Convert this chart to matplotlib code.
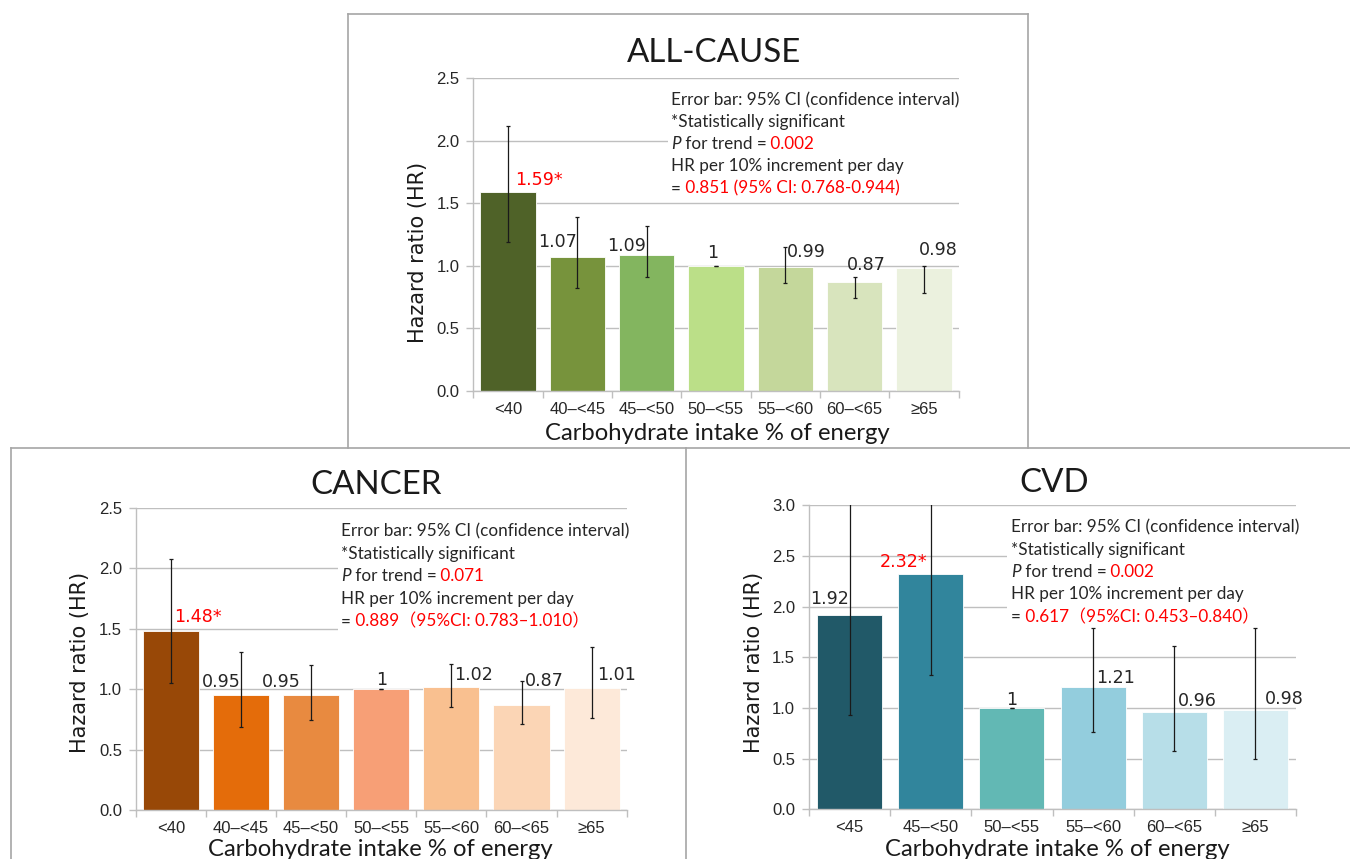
import matplotlib
matplotlib.use('Agg')
import matplotlib.pyplot as plt
from matplotlib.lines import Line2D
from matplotlib.patches import Rectangle
import numpy as np

# ---------------- data ----------------
all_cats = ['<40', '40–<45', '45–<50', '50–<55', '55–<60', '60–<65', '≥65']
all_hr = [1.59, 1.07, 1.09, 1.00, 0.99, 0.87, 0.98]
all_lo = [1.19, 0.82, 0.91, 1.00, 0.86, 0.74, 0.78]
all_hi = [2.12, 1.39, 1.32, 1.00, 1.15, 0.91, 1.00]
all_sig = [True, False, False, False, False, False, False]
all_ptrend = '0.002'
all_hrinc = '0.851 (95% CI: 0.768-0.944)'

cancer_cats = ['<40', '40–<45', '45–<50', '50–<55', '55–<60', '60–<65', '≥65']
cancer_hr = [1.48, 0.95, 0.95, 1.00, 1.02, 0.87, 1.01]
cancer_lo = [1.05, 0.69, 0.75, 1.00, 0.85, 0.71, 0.76]
cancer_hi = [2.08, 1.31, 1.20, 1.00, 1.21, 1.07, 1.35]
cancer_sig = [True, False, False, False, False, False, False]
cancer_ptrend = '0.071'
cancer_hrinc = '0.889（95%CI: 0.783–1.010）'

cvd_cats = ['<45', '45–<50', '50–<55', '55–<60', '60–<65', '≥65']
cvd_hr = [1.92, 2.32, 1.00, 1.21, 0.96, 0.98]
cvd_lo = [0.93, 1.33, 1.00, 0.76, 0.58, 0.50]
cvd_hi = [3.99, 4.05, 1.00, 1.79, 1.61, 1.79]
cvd_sig = [False, True, False, False, False, False]
cvd_ptrend = '0.002'
cvd_hrinc = '0.617（95%CI: 0.453–0.840）'

# ---------------- styles ----------------
all_colors = ['#4F6228', '#77933C', '#83B55F', '#BBDF88', '#C4D79B', '#D8E4BD', '#EBF1DE']
cancer_colors = ['#984807', '#E46C0A', '#E88A40', '#F79F76', '#F9C090', '#FBD5B5', '#FDE9D9']
cvd_colors = ['#215968', '#31859C', '#62B8B4', '#93CDDD', '#B7DEE8', '#DAEEF3']

# label offsets (x in category units, y in data units above the bar top, label centre)
all_dx = [0.44, -0.29, -0.29, -0.04, 0.31, 0.175, 0.21]
all_dy = [0.10, 0.12, 0.07, 0.10, 0.12, 0.135, 0.147]
cancer_dx = [0.38, -0.28, -0.43, 0.0, 0.32, 0.33, 0.35]
cancer_dy = [0.114, 0.113, 0.107, 0.077, 0.098, 0.198, 0.108]
cvd_dx = [-0.25, -0.34, 0.0, 0.28, 0.29, 0.36]
cvd_dy = [0.156, 0.124, 0.079, 0.083, 0.112, 0.109]

W, H = 1350, 859
fig = plt.figure(figsize=(W / 100, H / 100), dpi=100)
renderer = fig.canvas.get_renderer()

GRID = '#BFBFBF'
TXT = '#262626'
RED = '#FF0000'
NOTE_FAMILY = ['Lato', 'Noto Sans CJK JP', 'DejaVu Sans']


def fx(px):
    return px / W


def fy(py):
    return 1 - py / H


def panel(rect_px, cats, hr, lo, hi, sig, colors, dx, dy, ymax, box):
    l, t, r, b = rect_px
    ax = fig.add_axes([fx(l), fy(b), (r - l) / W, (b - t) / H])
    x = np.arange(len(cats))
    hr_a = np.array(hr)
    ax.bar(x, hr_a, width=0.8, color=colors, edgecolor='white', linewidth=0.6, zorder=2)
    ax.errorbar(x, hr_a, yerr=[hr_a - np.array(lo), np.array(hi) - hr_a], fmt='none',
                ecolor='#1a1a1a', elinewidth=0.9, capsize=1.6, capthick=0.9, zorder=4)
    for i, v in enumerate(hr):
        s = f'{v:g}' + ('*' if sig[i] else '')
        ax.text(i + dx[i], v + dy[i], s, ha='center', va='center', fontsize=12.6,
                family='DejaVu Sans', color=RED if sig[i] else TXT, zorder=5)
    ax.set_xlim(-0.5, len(cats) - 0.5)
    ax.set_ylim(0, ymax)
    ax.set_yticks(np.arange(0, ymax + 0.01, 0.5))
    ax.set_yticklabels([f'{v:.1f}' for v in np.arange(0, ymax + 0.01, 0.5)])
    ax.set_xticks(x)
    ax.set_xticklabels(cats)
    ax.set_xticks(np.arange(-0.5, len(cats)), minor=True)
    ax.tick_params(axis='x', which='major', length=0, pad=8, labelsize=12, labelcolor=TXT)
    ax.tick_params(axis='x', which='minor', length=5, color=GRID, width=1)
    ax.tick_params(axis='y', length=5, color=GRID, width=1, labelsize=12, labelcolor=TXT, pad=5)
    for lab in ax.get_xticklabels() + ax.get_yticklabels():
        lab.set_family('Liberation Sans')
    ax.grid(axis='y', color=GRID, linewidth=1, zorder=0)
    ax.set_axisbelow(True)
    for s in ['top', 'right']:
        ax.spines[s].set_visible(False)
    for s in ['left', 'bottom']:
        ax.spines[s].set_color(GRID)
        ax.spines[s].set_linewidth(1)
    # white box behind the note
    bx0, by0, by1 = box
    ax.add_patch(Rectangle((bx0, by0), 1 - bx0 + 0.01, by1 - by0, transform=ax.transAxes,
                           facecolor='white', edgecolor='none', zorder=1, clip_on=False))
    return ax


def rich_line(x_px, y_px, pieces, size=12.3):
    x = x_px
    for s, color, style in pieces:
        t = fig.text(x / W, fy(y_px), s, color=color, fontstyle=style, fontsize=size,
                     family=NOTE_FAMILY, ha='left', va='baseline')
        bb = t.get_window_extent(renderer)
        x = bb.x1


def note(x_px, y_first, spacing, ptrend, hrinc):
    lines = [
        [('Error bar: 95% CI (confidence interval)', TXT, 'normal')],
        [('*Statistically significant', TXT, 'normal')],
        [('P', TXT, 'italic'), (' for trend =', TXT, 'normal'), (' ' + ptrend, RED, 'normal')],
        [('HR per 10% increment per day', TXT, 'normal')],
        [('=', TXT, 'normal'), (' ' + hrinc, RED, 'normal')],
    ]
    for k, pcs in enumerate(lines):
        rich_line(x_px, y_first + k * spacing + 5, pcs)


# ---------------- panels ----------------
ax1 = panel((473.3, 78.3, 958.6, 391.0), all_cats, all_hr, all_lo, all_hi, all_sig,
            all_colors, all_dx, all_dy, 2.5, (0.401, 0.62, 0.97))
ax2 = panel((135.8, 507.7, 626.7, 810.3), cancer_cats, cancer_hr, cancer_lo, cancer_hi, cancer_sig,
            cancer_colors, cancer_dx, cancer_dy, 2.5, (0.412, 0.569, 0.966))
ax3 = panel((809.0, 505.3, 1296.0, 809.3), cvd_cats, cvd_hr, cvd_lo, cvd_hi, cvd_sig,
            cvd_colors, cvd_dx, cvd_dy, 3.0, (0.407, 0.557, 0.968))

note(671, 100, 22.1, all_ptrend, all_hrinc)
note(341, 531, 22.7, cancer_ptrend, cancer_hrinc)
note(1011, 527, 22.5, cvd_ptrend, cvd_hrinc)

# titles, axis labels
for (tx, ty, title), (xx, xy), (yx, yy) in [
        ((714.5, 53, 'ALL-CAUSE'), (717, 433), (418, 252)),
        ((375.6, 485, 'CANCER'), (380, 850), (80, 662)),
        ((1054, 483, 'CVD'), (1057, 850), (754, 662))]:
    fig.text(fx(tx), fy(ty), title, ha='center', va='center', fontsize=23.8,
             family='Lato', color='#1a1a1a')
    fig.text(fx(xx), fy(xy), 'Carbohydrate intake % of energy', ha='center', va='center',
             fontsize=17.2, family='Lato', color='#1a1a1a')
    fig.text(fx(yx), fy(yy), 'Hazard ratio (HR)', ha='center', va='center', rotation=90,
             fontsize=15, family='DejaVu Sans', color='#1a1a1a')

# panel borders
BORDER = '#A6A6A6'
segs = [((348, 348), (14, 448)), ((348, 1028), (14, 14)), ((1028, 1028), (14, 448)),
        ((11, 1350), (448, 448)), ((11, 11), (448, 859)), ((686, 686), (448, 859))]
for xs, ys in segs:
    fig.add_artist(Line2D([fx(v) for v in xs], [fy(v) for v in ys], color=BORDER, linewidth=1.2))

fig.savefig('out.png', dpi=100)
